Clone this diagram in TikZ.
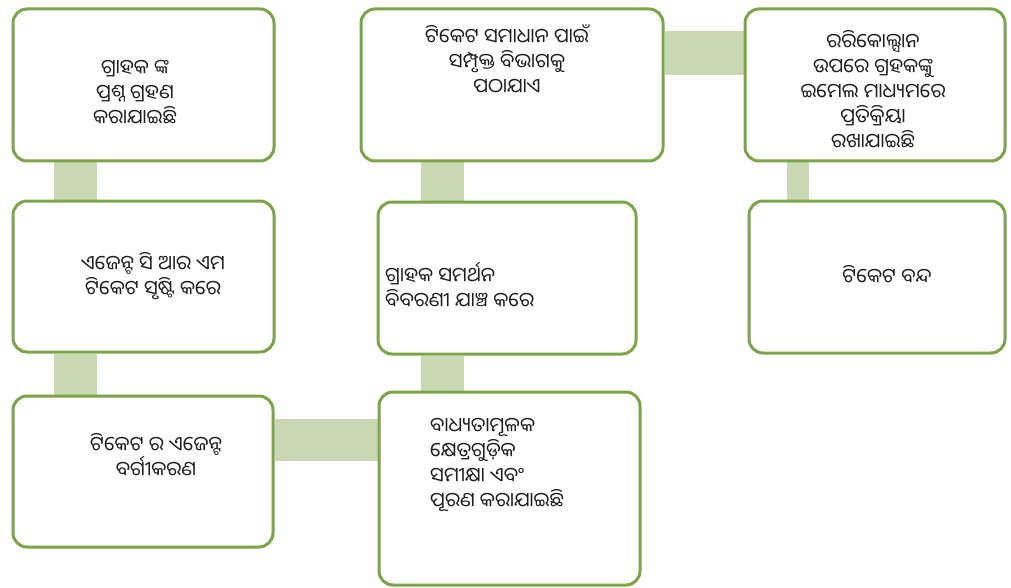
\documentclass[tikz,border=0pt]{standalone}
\usepackage{fontspec}
\newfontfamily\odia[Script=Oriya]{Noto Sans Oriya UI}
\usetikzlibrary{backgrounds}
\definecolor{bordc}{RGB}{124,164,72}
\definecolor{barc}{RGB}{200,216,178}
\definecolor{txtc}{RGB}{30,30,30}
\tikzset{
  box/.style={draw=bordc, line width=3pt, fill=white, rounded corners=14pt, inner sep=0pt, rectangle},
  bar/.style={draw=barc},
  lbl/.style={font=\odia\fontsize{20}{25}\selectfont, text=txtc, align=center, inner sep=0pt},
  lbll/.style={font=\odia\fontsize{20}{25}\selectfont, text=txtc, align=left, inner sep=0pt, anchor=west}
}
\begin{document}
\begin{tikzpicture}[x=1pt,y=-1pt]
\useasboundingbox (0,0) rectangle (1011,588);
\node[box, minimum width=261pt, minimum height=152pt] (b1) at (143.5,85) {};
\node[box, minimum width=261pt, minimum height=151pt] (b2) at (143.5,276.5) {};
\node[box, minimum width=260pt, minimum height=151pt] (b3) at (143,471.5) {};
\node[box, minimum width=302pt, minimum height=152pt] (b4) at (512,85) {};
\node[box, minimum width=258pt, minimum height=152pt] (b5) at (507,278) {};
\node[box, minimum width=261pt, minimum height=193pt] (b6) at (509.5,488.5) {};
\node[box, minimum width=260pt, minimum height=152pt] (b7) at (875,85) {};
\node[box, minimum width=256pt, minimum height=152pt] (b8) at (877,277) {};
\begin{scope}[on background layer]
\draw[bar, line width=43pt] ([xshift=63.5pt]b1.south west) -- ([xshift=63.5pt]b2.north west);
\draw[bar, line width=43pt] ([xshift=63.5pt]b2.south west) -- ([xshift=63.5pt]b3.north west);
\draw[bar, line width=42pt] ([yshift=-45pt]b3.north east) -- ([yshift=-49pt]b6.north west);
\draw[bar, line width=43pt] ([xshift=64.5pt]b6.north west) -- ([xshift=65.5pt]b5.south west);
\draw[bar, line width=43pt] ([xshift=65.5pt]b5.north west) -- ([xshift=82.5pt]b4.south west);
\draw[bar, line width=44pt] ([yshift=-46pt]b4.north east) -- ([yshift=-46pt]b7.north west);
\draw[bar, line width=22pt] ([xshift=54pt]b7.south west) -- ([xshift=50pt]b8.north west);
\end{scope}
\node[lbl] (t1) at (135,93) {ଗ୍ରାହକ ଙ୍କ\\ପ୍ରଶ୍ନ ଗ୍ରହଣ\\କରାଯାଇଛି};
\node[lbl] (t2) at (153,276) {ଏଜେନ୍ଟ ସି ଆର ଏମ\\ଟିକେଟ ସୃଷ୍ଟି କରେ};
\node[lbl] (t3) at (156,455) {ଟିକେଟ ର ଏଜେନ୍ଟ\\ବର୍ଗୀକରଣ};
\node[lbl] (t4) at (507,60) {ଟିକେଟ ସମାଧାନ ପାଇଁ\\ସମ୍ପୃକ୍ତ ବିଭାଗକୁ\\ପଠାଯାଏ};
\node[lbll] (t5) at (385,285) {ଗ୍ରାହକ ସମର୍ଥନ\\ବିବରଣୀ ଯାଞ୍ଚ କରେ};
\node[lbll] (t6) at (430,465) {ବାଧ୍ୟତାମୂଳକ\\କ୍ଷେତ୍ରଗୁଡ଼ିକ\\ସମୀକ୍ଷା ଏବଂ\\ପୂରଣ କରାଯାଇଛି};
\node[lbl] (t7) at (873,90) {ରରିକୋଲ୍ସାନ\\ଉପରେ ଗ୍ରହକଙ୍କୁ\\ଇମେଲ ମାଧ୍ୟମରେ\\ପ୍ରତିକ୍ରିୟା\\ରଖାଯାଇଛି};
\node[lbl] (t8) at (887,275) {ଟିକେଟ ବନ୍ଦ};
\end{tikzpicture}
\end{document}
